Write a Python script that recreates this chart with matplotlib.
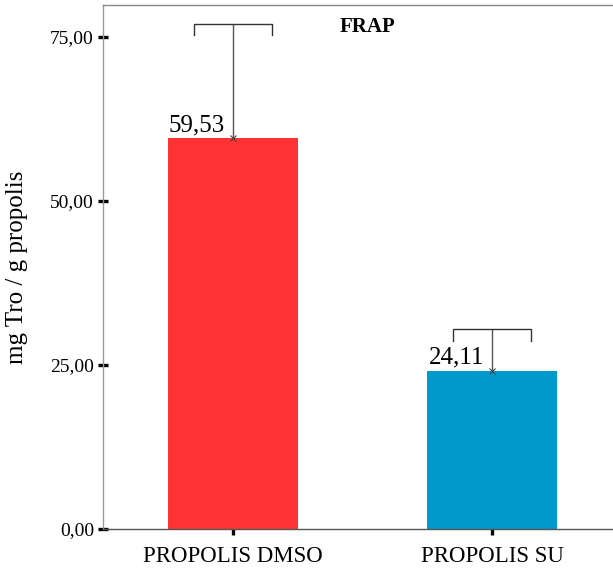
import matplotlib
matplotlib.use("Agg")
import matplotlib.pyplot as plt

groups = ["PROPOLIS DMSO", "PROPOLIS SU"]
means = [59.53, 24.11]
upper = [76.9, 30.4]
mean_labels = ["59,53", "24,11"]
colors = ["#FF3333", "#0099CC"]
yticks = [0, 25, 50, 75]
yticklabels = ["0,00", "25,00", "50,00", "75,00"]

plt.rcParams["font.family"] = ["Liberation Serif", "DejaVu Serif"]

W, H = 613, 578
fig = plt.figure(figsize=(W / 100, H / 100), dpi=100)
ax = fig.add_axes([103 / W, 1 - 529 / H, (622 - 103) / W, (529 - 5) / H])
ax.set_xlim(-0.5, 1.5)
ax.set_ylim(0, 79.8)

x = list(range(len(groups)))
ax.bar(x, means, width=0.5, color=colors, zorder=2)

for i in x:
    ax.vlines(i, means[i], upper[i], color="#555555", lw=1, zorder=3)
    ax.plot([i - 0.15, i - 0.15, i + 0.15, i + 0.15],
            [upper[i] - 1.7, upper[i], upper[i], upper[i] - 1.7],
            color="#333333", lw=1, zorder=3)
    ax.plot(i, means[i], marker="x", ms=5, mew=0.8, color="#444444", zorder=4)
    ax.text(i - 0.03, means[i] + 0.3, mean_labels[i], ha="right", va="bottom",
            fontsize=18)

ax.text(0.51, 0.977, "FRAP", transform=ax.transAxes, ha="center", va="top",
        fontsize=15, fontweight="bold")

ax.set_yticks(yticks)
ax.set_yticklabels(yticklabels)
ax.set_xticks(x)
ax.set_xticklabels(groups)
ax.tick_params(axis="y", direction="inout", length=7, width=2.4, color="black",
               labelsize=14, pad=3)
ax.tick_params(axis="x", direction="out", length=4.5, width=2.4, color="black",
               labelsize=16.5, pad=8)
ax.set_ylabel("mg Tro / g propolis", fontsize=18, labelpad=16)

ax.spines["right"].set_visible(False)
ax.spines["left"].set_color("#999999")
ax.spines["top"].set_color("#888888")
ax.spines["bottom"].set_color("#555555")
for s in ax.spines.values():
    s.set_linewidth(1)

fig.savefig("out.png", dpi=100)
